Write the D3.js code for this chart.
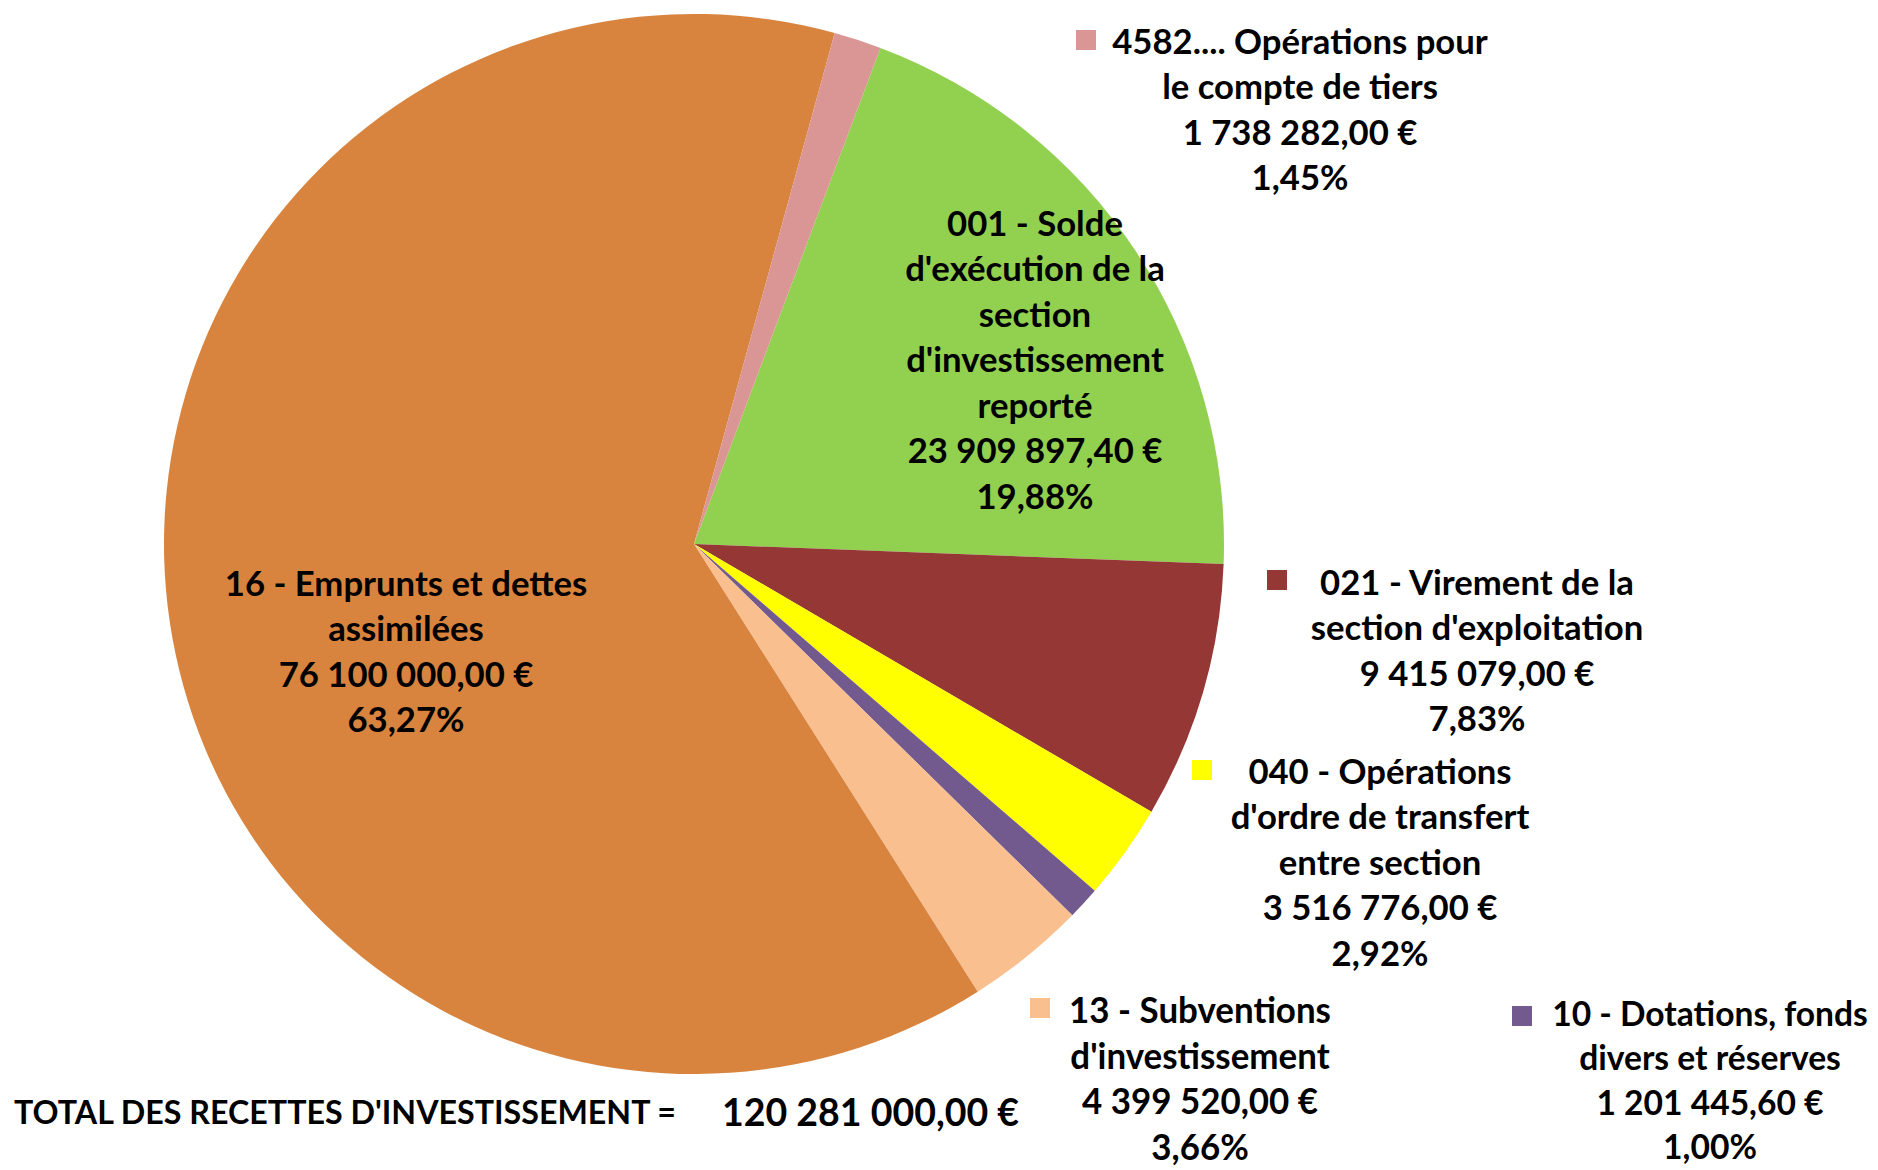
<!DOCTYPE html>
<html><head><meta charset="utf-8">
<script src="https://cdn.jsdelivr.net/npm/d3@7"></script>
<style>
html,body{margin:0;padding:0;background:#fff;}
svg{display:block;}
text{font-family:Lato,"Open Sans",sans-serif;font-weight:700;fill:#000;}
</style></head>
<body>
<svg id="chart" width="1878" height="1170"></svg>
<script>
// ---- data ----
const categories = [
  "001 - Solde\nd'exécution de la\nsection\nd'investissement\nreporté",
  "021 - Virement de la\nsection d'exploitation",
  "040 - Opérations\nd'ordre de transfert\nentre section",
  "10 - Dotations, fonds\ndivers et réserves",
  "13 - Subventions\nd'investissement",
  "16 - Emprunts et dettes\nassimilées",
  "4582.... Opérations pour\nle compte de tiers"
];
const values = [23909897.40, 9415079.00, 3516776.00, 1201445.60, 4399520.00, 76100000.00, 1738282.00];
const colors = ["#92D050", "#953735", "#FFFF00", "#72598E", "#F9BF8F", "#D9843E", "#D99694"];
const totalLabel = "TOTAL DES RECETTES D'INVESTISSEMENT =";
const totalValue = 120281000.00;

// ---- layout ----
const W = 1878, H = 1170;
const cx = 694, cy = 544, R = 530;
const startDeg = 20.6;
const labelLayout = [
  {x: 1035, y: 223, key: false, sx: 1, fs: 34.7, lh: 45.6},
  {x: 1477, y: 582, key: true, kx: 1277, ky: 580, sx: 1, fs: 34.7, lh: 45.6},
  {x: 1380, y: 771, key: true, kx: 1202, ky: 770, sx: 1, fs: 34.7, lh: 45.6},
  {x: 1710, y: 1013, key: true, kx: 1522, ky: 1016, sx: 0.96, fs: 35, lh: 44.6},
  {x: 1200, y: 1010, key: true, kx: 1040, ky: 1008, sx: 0.97, fs: 36, lh: 45.6},
  {x: 406, y: 583, key: false, sx: 1, fs: 34.7, lh: 45.6},
  {x: 1300, y: 41, key: true, kx: 1086, ky: 40, sx: 1, fs: 34.7, lh: 45.6}
];

const fr = d3.formatLocale({decimal: ",", thousands: "\u00a0", grouping: [3], currency: ["", "\u00a0€"]});
const fmtMoney = fr.format(",.2f");
const fmtPct = fr.format(".2f");

const svg = d3.select("#chart");
const total = d3.sum(values);

const pie = d3.pie().sort(null)
  .startAngle(startDeg * Math.PI / 180)
  .endAngle(startDeg * Math.PI / 180 + 2 * Math.PI);
const arcs = pie(values);
const arc = d3.arc().innerRadius(0).outerRadius(R);

const g = svg.append("g").attr("transform", `translate(${cx},${cy})`);
g.selectAll("path").data(arcs).join("path")
  .attr("d", arc)
  .attr("fill", (d, i) => colors[i]);

// labels
const labels = svg.append("g");
arcs.forEach((d, i) => {
  const L = labelLayout[i];
  const lines = categories[i].split("\n")
    .concat([fmtMoney(values[i]) + "\u00a0€", fmtPct(values[i] / total * 100) + "%"]);
  const lg = labels.append("g").attr("transform", `translate(${L.x},${L.y}) scale(${L.sx},1)`);
  lg.selectAll("text").data(lines).join("text")
    .attr("x", 0)
    .attr("y", (t, j) => j * L.lh)
    .attr("dy", "0.36em")
    .attr("text-anchor", "middle")
    .attr("font-size", L.fs)
    .text(t => t);
  if (L.key) {
    labels.append("rect")
      .attr("x", L.kx - 10).attr("y", L.ky - 10)
      .attr("width", 20).attr("height", 20)
      .attr("fill", colors[i]);
  }
});

// total
svg.append("text")
  .attr("x", 14).attr("y", 1112).attr("dy", "0.36em")
  .attr("font-size", 32)
  .attr("textLength", 662).attr("lengthAdjust", "spacingAndGlyphs")
  .text(totalLabel);
svg.append("text")
  .attr("x", 722).attr("y", 1112).attr("dy", "0.36em")
  .attr("font-size", 38)
  .attr("textLength", 297).attr("lengthAdjust", "spacingAndGlyphs")
  .text(fmtMoney(totalValue) + "\u00a0€");
</script>
</body></html>
